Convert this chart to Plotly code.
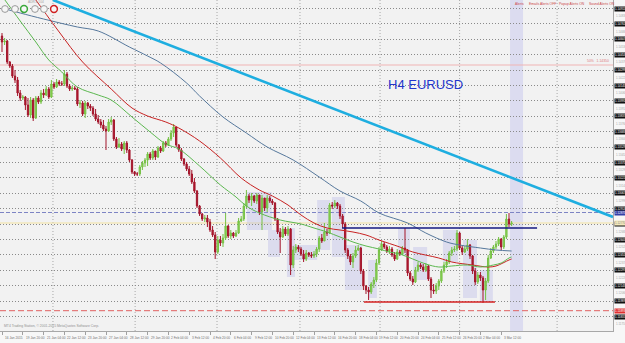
import plotly.graph_objects as go

# ---------------- data ----------------
first_open = 1.1464
close = [
    1.1458, 1.1459, 1.1438, 1.1434, 1.1424, 1.1420, 1.1407, 1.1402, 1.1403, 1.1395,
    1.1385, 1.1400, 1.1382, 1.1402, 1.1398, 1.1407, 1.1405, 1.1411, 1.1403, 1.1416,
    1.1413, 1.1418, 1.1416, 1.1416, 1.1426, 1.1414, 1.1411, 1.1412, 1.1411, 1.1396,
    1.1397, 1.1386, 1.1397, 1.1394, 1.1392, 1.1386, 1.1381, 1.1378, 1.1375, 1.1371,
    1.1369, 1.1378, 1.1380, 1.1361, 1.1353, 1.1356, 1.1351, 1.1357, 1.1350, 1.1340,
    1.1328, 1.1326, 1.1326, 1.1333, 1.1337, 1.1340, 1.1346, 1.1342, 1.1349, 1.1343,
    1.1352, 1.1349, 1.1357, 1.1355, 1.1361, 1.1367, 1.1373, 1.1355, 1.1350, 1.1341,
    1.1336, 1.1331, 1.1326, 1.1318, 1.1309, 1.1294, 1.1286, 1.1281, 1.1282, 1.1278,
    1.1270, 1.1265, 1.1248, 1.1260, 1.1257, 1.1262, 1.1274, 1.1264, 1.1267, 1.1264,
    1.1267, 1.1279, 1.1281, 1.1294, 1.1304, 1.1300, 1.1304, 1.1299, 1.1305, 1.1288,
    1.1302, 1.1292, 1.1302, 1.1299, 1.1297, 1.1281, 1.1268, 1.1263, 1.1271, 1.1266,
    1.1271, 1.1235, 1.1250, 1.1253, 1.1251, 1.1246, 1.1241, 1.1247, 1.1245, 1.1244,
    1.1246, 1.1251, 1.1262, 1.1259, 1.1268, 1.1267, 1.1295, 1.1294, 1.1297, 1.1294,
    1.1284, 1.1276, 1.1250, 1.1244, 1.1238, 1.1244, 1.1250, 1.1252, 1.1229, 1.1214,
    1.1210, 1.1208, 1.1216, 1.1220, 1.1237, 1.1250, 1.1256, 1.1253, 1.1249, 1.1251,
    1.1245, 1.1241, 1.1248, 1.1246, 1.1252, 1.1250, 1.1227, 1.1221, 1.1218, 1.1230,
    1.1235, 1.1233, 1.1230, 1.1234, 1.1221, 1.1210, 1.1209, 1.1214, 1.1219, 1.1229,
    1.1235, 1.1238, 1.1247, 1.1250, 1.1251, 1.1267, 1.1252, 1.1248, 1.1251, 1.1255,
    1.1244, 1.1229, 1.1218, 1.1225, 1.1222, 1.1210, 1.1219, 1.1242, 1.1249, 1.1253,
    1.1256, 1.1261, 1.1253, 1.1263, 1.1281, 1.1276, 1.1277,
]
high = [
    1.1467, 1.1462, 1.1460, 1.1439, 1.1436, 1.1430, 1.1423, 1.1410, 1.1405, 1.1404,
    1.1402, 1.1403, 1.1402, 1.1404, 1.1404, 1.1410, 1.1411, 1.1414, 1.1413, 1.1420,
    1.1418, 1.1421, 1.1420, 1.1419, 1.1430, 1.1428, 1.1416, 1.1414, 1.1414, 1.1413,
    1.1400, 1.1399, 1.1399, 1.1398, 1.1396, 1.1394, 1.1391, 1.1385, 1.1381, 1.1380,
    1.1374, 1.1381, 1.1383, 1.1381, 1.1363, 1.1362, 1.1358, 1.1359, 1.1359, 1.1351,
    1.1341, 1.1329, 1.1328, 1.1335, 1.1339, 1.1342, 1.1348, 1.1348, 1.1351, 1.1349,
    1.1354, 1.1354, 1.1359, 1.1359, 1.1363, 1.1370, 1.1376, 1.1372, 1.1356, 1.1352,
    1.1342, 1.1338, 1.1334, 1.1330, 1.1322, 1.1310, 1.1295, 1.1287, 1.1285, 1.1285,
    1.1281, 1.1274, 1.1268, 1.1264, 1.1264, 1.1266, 1.1287, 1.1275, 1.1270, 1.1268,
    1.1270, 1.1282, 1.1284, 1.1297, 1.1310, 1.1306, 1.1307, 1.1305, 1.1307, 1.1305,
    1.1305, 1.1302, 1.1305, 1.1304, 1.1301, 1.1298, 1.1282, 1.1272, 1.1274, 1.1273,
    1.1274, 1.1272, 1.1254, 1.1256, 1.1255, 1.1253, 1.1250, 1.1250, 1.1248, 1.1248,
    1.1249, 1.1253, 1.1264, 1.1266, 1.1277, 1.1271, 1.1297, 1.1298, 1.1300, 1.1298,
    1.1296, 1.1286, 1.1278, 1.1252, 1.1246, 1.1247, 1.1254, 1.1255, 1.1253, 1.1231,
    1.1215, 1.1213, 1.1218, 1.1223, 1.1241, 1.1253, 1.1259, 1.1258, 1.1255, 1.1254,
    1.1253, 1.1248, 1.1251, 1.1250, 1.1254, 1.1272, 1.1251, 1.1229, 1.1224, 1.1233,
    1.1238, 1.1237, 1.1236, 1.1237, 1.1235, 1.1223, 1.1216, 1.1217, 1.1221, 1.1231,
    1.1238, 1.1241, 1.1249, 1.1253, 1.1254, 1.1270, 1.1268, 1.1254, 1.1254, 1.1261,
    1.1256, 1.1245, 1.1232, 1.1228, 1.1228, 1.1224, 1.1222, 1.1245, 1.1252, 1.1255,
    1.1259, 1.1263, 1.1262, 1.1265, 1.1286, 1.1287, 1.1279,
]
low = [
    1.1448, 1.1455, 1.1436, 1.1432, 1.1422, 1.1417, 1.1404, 1.1399, 1.1400, 1.1390,
    1.1383, 1.1382, 1.1379, 1.1381, 1.1396, 1.1396, 1.1402, 1.1404, 1.1401, 1.1402,
    1.1411, 1.1412, 1.1414, 1.1414, 1.1414, 1.1412, 1.1409, 1.1409, 1.1410, 1.1394,
    1.1392, 1.1384, 1.1382, 1.1391, 1.1389, 1.1384, 1.1379, 1.1376, 1.1372, 1.1369,
    1.1350, 1.1368, 1.1375, 1.1359, 1.1351, 1.1352, 1.1349, 1.1346, 1.1347, 1.1338,
    1.1326, 1.1324, 1.1324, 1.1324, 1.1330, 1.1333, 1.1334, 1.1340, 1.1340, 1.1340,
    1.1342, 1.1347, 1.1348, 1.1353, 1.1354, 1.1359, 1.1363, 1.1353, 1.1348, 1.1339,
    1.1334, 1.1329, 1.1324, 1.1316, 1.1307, 1.1292, 1.1284, 1.1279, 1.1278, 1.1273,
    1.1268, 1.1263, 1.1241, 1.1246, 1.1254, 1.1253, 1.1260, 1.1262, 1.1261, 1.1262,
    1.1263, 1.1266, 1.1278, 1.1279, 1.1292, 1.1297, 1.1294, 1.1297, 1.1296, 1.1285,
    1.1270, 1.1289, 1.1288, 1.1297, 1.1295, 1.1279, 1.1266, 1.1247, 1.1262, 1.1264,
    1.1264, 1.1225, 1.1232, 1.1247, 1.1248, 1.1244, 1.1238, 1.1239, 1.1243, 1.1242,
    1.1242, 1.1243, 1.1248, 1.1257, 1.1259, 1.1264, 1.1266, 1.1291, 1.1292, 1.1291,
    1.1281, 1.1272, 1.1247, 1.1241, 1.1235, 1.1232, 1.1242, 1.1249, 1.1226, 1.1210,
    1.1206, 1.1200, 1.1206, 1.1212, 1.1218, 1.1235, 1.1249, 1.1251, 1.1247, 1.1246,
    1.1243, 1.1239, 1.1240, 1.1244, 1.1245, 1.1247, 1.1224, 1.1219, 1.1215, 1.1217,
    1.1228, 1.1231, 1.1228, 1.1228, 1.1219, 1.1202, 1.1206, 1.1206, 1.1210, 1.1217,
    1.1227, 1.1232, 1.1236, 1.1244, 1.1248, 1.1249, 1.1250, 1.1245, 1.1247, 1.1249,
    1.1241, 1.1226, 1.1215, 1.1216, 1.1219, 1.1197, 1.1200, 1.1217, 1.1241, 1.1247,
    1.1251, 1.1254, 1.1250, 1.1251, 1.1261, 1.1273, 1.1274,
]

# moving averages (bar index, price)
ma_fast_bar = [0, 7, 13, 18, 23, 29, 37, 42, 50, 57, 63, 68, 76, 84, 90, 94, 99, 107, 115, 120,
               125, 130, 135, 140, 145, 149, 153, 158, 163, 168, 173, 179, 184, 189, 192, 195, 196]
ma_fast = [1.1504, 1.1479, 1.1458, 1.1440, 1.1428, 1.1413, 1.1405, 1.1400, 1.1383, 1.1368,
           1.1356, 1.1351, 1.1334, 1.1315, 1.1303, 1.1294, 1.1287, 1.1280, 1.1276, 1.1272,
           1.1268, 1.1263, 1.1258, 1.1254, 1.1251, 1.1248, 1.1246, 1.1241, 1.1236, 1.1233,
           1.1234, 1.1235, 1.1233, 1.1235, 1.1237, 1.1242, 1.1243]
ma_mid_bar = [11, 13, 22, 31, 42, 50, 56, 63, 68, 76, 84, 92, 99, 104, 110, 115, 120, 125, 130,
              135, 140, 145, 153, 158, 168, 173, 181, 187, 190, 195, 196]
ma_mid = [1.1507, 1.1500, 1.1468, 1.1438, 1.1411, 1.1392, 1.1384, 1.1378, 1.1372, 1.1359,
          1.1342, 1.1322, 1.1310, 1.1304, 1.1295, 1.1285, 1.1277, 1.1272, 1.1270, 1.1268,
          1.1265, 1.1260, 1.1253, 1.1248, 1.1242, 1.1238, 1.1235, 1.1233, 1.1234, 1.1240, 1.1241]
ma_slow_bar = [0, 7, 16, 29, 37, 49, 56, 61, 71, 76, 85, 94, 102, 112, 122, 130, 138, 145, 156,
               163, 171, 176, 184, 190, 196]
ma_slow = [1.1492, 1.1487, 1.1481, 1.1473, 1.1469, 1.1453, 1.1444, 1.1437, 1.1417, 1.1404,
           1.1383, 1.1367, 1.1353, 1.1340, 1.1323, 1.1309, 1.1299, 1.1287, 1.1277, 1.1267,
           1.1258, 1.1255, 1.1252, 1.1250, 1.1249]

trend_bar = [19.6, 235.0]
trend_price = [1.1500, 1.1283]

level_pink = 1.1435
level_blue_dash = 1.12875
level_cream = 1.1277
level_red_dash = 1.11893
navy_bar = [130.8, 205.8]
navy_price = 1.1272
support_bar = [139.2, 189.6]
support_price = 1.1198

box_x0 = [94.2, 102.3, 109.6, 111.9, 121.2, 126.9, 131.9, 140.8, 152.3, 158.1, 169.6, 177.3, 183.8]
box_x1 = [103.8, 106.9, 112.7, 121.2, 126.2, 131.9, 138.5, 144.2, 156.9, 163.5, 175.4, 182.7, 188.8]
box_top = [1.1308, 1.1270, 1.1272, 1.1255, 1.1300, 1.1303, 1.1255, 1.1240, 1.1272, 1.1253, 1.1270, 1.1260, 1.1230]
box_bot = [1.1270, 1.1243, 1.1223, 1.1240, 1.1250, 1.1243, 1.1210, 1.1202, 1.1245, 1.1220, 1.1238, 1.1202, 1.1198]
session_band = [195.4, 200.4]

price_ticks = [1.14915, 1.14761, 1.14607, 1.14453, 1.14299, 1.14145, 1.13991, 1.13837,
               1.13683, 1.13529, 1.13375, 1.13221, 1.13067, 1.12913, 1.12759, 1.12605,
               1.12451, 1.12297, 1.12143, 1.11989, 1.11835]
price_labels = ["1.14915", "1.14761", "1.14607", "1.14453", "1.14299", "1.14145", "1.13991",
                "1.13837", "1.13683", "1.13529", "1.13375", "1.13221", "1.13067", "1.12913",
                "1.12759", "1.12605", "1.12451", "1.12297", "1.12143", "1.11989", "1.11835"]
time_tick_bars = [0, 8, 16, 24, 32, 40, 48, 56, 64, 72, 80, 88, 96, 104, 112, 120, 128, 136,
                  144, 152, 160, 168, 176, 184, 192]
time_labels = ["16 Jan 2015", "19 Jan 20:00", "21 Jan 04:00", "22 Jan 12:00", "23 Jan 20:00",
               "27 Jan 04:00", "28 Jan 12:00", "29 Jan 20:00", "2 Feb 04:00", "3 Feb 12:00",
               "4 Feb 20:00", "6 Feb 04:00", "9 Feb 12:00", "10 Feb 20:00", "12 Feb 04:00",
               "13 Feb 12:00", "16 Feb 20:00", "18 Feb 04:00", "19 Feb 12:00", "20 Feb 20:00",
               "24 Feb 04:00", "25 Feb 12:00", "26 Feb 20:00", "2 Mar 04:00", "3 Mar 12:00"]
vgrid_bars = [19.6, 51.2, 82.7, 114.6, 145.4, 176.0, 213.5]

# ---------------- figure ----------------
bars = list(range(len(close)))
opens = [first_open] + close[:-1]
hi = [max(h, o, c) for h, o, c in zip(high, opens, close)]
lo = [min(l, o, c) for l, o, c in zip(low, opens, close)]

W, H = 625, 343
PW, PH = 613, 331
PRICE_TOP, PRICE_BOT = 1.1500, 1.1169


def px_x(x):
    return x / PW


def px_y(y):
    return 1 - y / PH


def price_px(p):
    return (PRICE_TOP - p) / (PRICE_TOP - PRICE_BOT) * PH


fig = go.Figure()

shapes = []
for b in vgrid_bars:
    shapes.append(dict(type="line", xref="x", yref="paper", x0=b, x1=b, y0=0, y1=1,
                       line=dict(color="#a8a8a8", width=1, dash="1px,2px"), layer="below"))
shapes.append(dict(type="rect", xref="x", yref="paper", x0=session_band[0], x1=session_band[1],
                   y0=0, y1=1, fillcolor="rgba(170,170,235,0.30)", line=dict(width=0), layer="below"))
for x0, x1, t, b in zip(box_x0, box_x1, box_top, box_bot):
    shapes.append(dict(type="rect", xref="x", yref="y", x0=x0, x1=x1, y0=b, y1=t,
                       fillcolor="rgba(165,165,230,0.28)", line=dict(width=0), layer="below"))
shapes.append(dict(type="line", xref="paper", yref="y", x0=0, x1=1, y0=level_pink, y1=level_pink,
                   line=dict(color="#f0b4b4", width=1), layer="below"))
shapes.append(dict(type="line", xref="paper", yref="y", x0=0, x1=1, y0=level_cream, y1=level_cream,
                   line=dict(color="#f3e2a0", width=1), layer="below"))
shapes.append(dict(type="line", xref="paper", yref="y", x0=0, x1=1, y0=level_blue_dash, y1=level_blue_dash,
                   line=dict(color="#7d84c4", width=1, dash="4px,2px"), layer="below"))
shapes.append(dict(type="line", xref="paper", yref="y", x0=0, x1=1, y0=level_red_dash, y1=level_red_dash,
                   line=dict(color="#e06060", width=1, dash="6px,3px"), layer="below"))

btn_cx = [5, 15, 24, 35, 44, 54]
btn_col = ["#9a9a9a", "#9a9a9a", "#3aa83a", "#9a9a9a", "#9a9a9a", "#d02020"]
btn_w = [1, 1, 1.5, 1, 1, 1.5]
for cx, col, w in zip(btn_cx, btn_col, btn_w):
    shapes.append(dict(type="circle", xref="paper", yref="paper",
                       x0=px_x(cx - 3.4), x1=px_x(cx + 3.4), y0=px_y(12.4), y1=px_y(5.6),
                       fillcolor="#f6f6f6", line=dict(color=col, width=w)))

fig.add_trace(go.Candlestick(
    x=bars, open=opens, high=hi, low=lo, close=close,
    increasing=dict(line=dict(color="#74c043", width=1), fillcolor="#92d858"),
    decreasing=dict(line=dict(color="#a3142a", width=1), fillcolor="#b3192f"),
    whiskerwidth=0, hoverinfo="skip", showlegend=False))

fig.add_trace(go.Scatter(x=ma_slow_bar, y=ma_slow, mode="lines", line=dict(color="#56789c", width=1, shape="spline"),
                         hoverinfo="skip", showlegend=False))
fig.add_trace(go.Scatter(x=ma_mid_bar, y=ma_mid, mode="lines", line=dict(color="#c82222", width=1, shape="spline"),
                         hoverinfo="skip", showlegend=False))
fig.add_trace(go.Scatter(x=ma_fast_bar, y=ma_fast, mode="lines", line=dict(color="#5cb850", width=1, shape="spline"),
                         hoverinfo="skip", showlegend=False))
fig.add_trace(go.Scatter(x=trend_bar, y=trend_price, mode="lines", line=dict(color="#1eaee0", width=2.6),
                         hoverinfo="skip", showlegend=False))
fig.add_trace(go.Scatter(x=navy_bar, y=[navy_price, navy_price], mode="lines",
                         line=dict(color="#161a80", width=1.4), hoverinfo="skip", showlegend=False))
fig.add_trace(go.Scatter(x=support_bar, y=[support_price, support_price], mode="lines",
                         line=dict(color="#d42020", width=1.4), hoverinfo="skip", showlegend=False))

annotations = []
special = [(level_blue_dash, "#3440a8", "#ffffff"), (level_red_dash, "#e03030", "#ffffff"),
           (level_cream, "#f3e8bc", "#888888")]
special_px = [price_px(p) for p, _, _ in special]
AX_FONT = 2.9
for p, lab in zip(price_ticks, price_labels):
    annotations.append(dict(x=1, xref="paper", y=p, yref="y", text=lab, showarrow=False,
                            xanchor="left", yanchor="middle", xshift=0.5,
                            font=dict(size=AX_FONT, color="#ffffff", family="Arial"),
                            bgcolor="#111111", borderpad=0))
    mid = p - 0.00077
    if all(abs(price_px(mid) - s) > 4 for s in special_px) and mid > PRICE_BOT + 0.0004:
        annotations.append(dict(x=1, xref="paper", y=mid, yref="y", text=f"{mid:.5f}", showarrow=False,
                                xanchor="left", yanchor="middle", xshift=1,
                                font=dict(size=AX_FONT, color="#a8a8a8", family="Arial")))
for p, bg, fg in special:
    annotations.append(dict(x=1, xref="paper", y=p, yref="y", text=f"{p:.5f}", showarrow=False,
                            xanchor="left", yanchor="middle", xshift=0.5,
                            font=dict(size=AX_FONT, color=fg, family="Arial"), bgcolor=bg, borderpad=0))

for b, lab in zip(time_tick_bars, time_labels):
    annotations.append(dict(x=b, xref="x", y=0, yref="paper", text=lab, showarrow=False,
                            xanchor="left", yanchor="middle", xshift=1, yshift=-7,
                            font=dict(size=3.2, color="#707070", family="Arial")))

annotations.append(dict(x=px_x(425), xref="paper", y=px_y(84), yref="paper", text="H4 EURUSD",
                        showarrow=False, xanchor="center", yanchor="middle",
                        font=dict(size=13, color="#2236cc", family="Arial")))
for tx, t in [(513, "Alerts"), (527, "Emails Alerts OFF"), (557, "Popup Alerts ON"), (587, "Sound Alerts ON")]:
    annotations.append(dict(x=px_x(tx), xref="paper", y=px_y(4), yref="paper", text=t, showarrow=False,
                            xanchor="left", yanchor="middle",
                            font=dict(size=3.4, color="#cc4848", family="Arial")))
annotations.append(dict(x=px_x(611), xref="paper", y=level_pink, yref="y", text="50%   1.14350",
                        showarrow=False, xanchor="right", yanchor="bottom",
                        font=dict(size=3.4, color="#e07a7a", family="Arial")))
annotations.append(dict(x=px_x(2), xref="paper", y=px_y(326), yref="paper",
                        text="MT4 Trading Station, © 2001-2015 MetaQuotes Software Corp.",
                        showarrow=False, xanchor="left", yanchor="middle",
                        font=dict(size=3.4, color="#909090", family="Arial")))
annotations.append(dict(x=px_x(26), xref="paper", y=px_y(2), yref="paper", text="ADR = 104",
                        showarrow=False, xanchor="left", yanchor="middle",
                        font=dict(size=3.2, color="#a0a0a0", family="Arial")))

fig.update_layout(
    width=W, height=H,
    margin=dict(l=0, r=W - PW, t=0, b=H - PH),
    paper_bgcolor="#f7f7f7", plot_bgcolor="#f2f2f2",
    showlegend=False,
    shapes=shapes, annotations=annotations,
    xaxis=dict(range=[-0.77, 235.0], showgrid=False, zeroline=False,
               rangeslider=dict(visible=False),
               tickvals=time_tick_bars, ticks="outside", ticklen=3, tickcolor="#a0a0a0",
               showticklabels=False, showline=True, linecolor="#a8a8a8", linewidth=1,
               fixedrange=True),
    yaxis=dict(range=[PRICE_BOT, PRICE_TOP], side="right", tickvals=price_ticks,
               showticklabels=False, showgrid=True, gridcolor="#8a8a8a", griddash="1px,2px",
               gridwidth=1, zeroline=False, showline=True, linecolor="#a8a8a8", linewidth=1,
               ticks="", fixedrange=True),
)

fig.write_html("out.html", config={"displayModeBar": False})
